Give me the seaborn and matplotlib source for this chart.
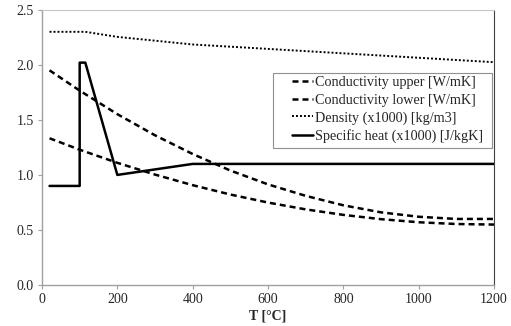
import matplotlib
matplotlib.use("Agg")
import matplotlib.pyplot as plt
from matplotlib.patches import Rectangle
import seaborn as sns

T_cond = [20, 100, 200, 300, 400, 500, 600, 700, 800, 900, 1000, 1100, 1200]
cond_upper = [1.95, 1.766, 1.552, 1.36, 1.19, 1.04, 0.914, 0.81, 0.724, 0.66, 0.62, 0.60, 0.60]
cond_lower = [1.333, 1.229, 1.11, 1.003, 0.907, 0.822, 0.749, 0.687, 0.637, 0.598, 0.57, 0.554, 0.549]
T_dens = [20, 115, 200, 400, 1200]
density = [2.30, 2.30, 2.254, 2.185, 2.024]
T_cp = [20, 100, 100, 115, 200, 400, 1200]
spec_heat = [0.90, 0.90, 2.02, 2.02, 1.00, 1.10, 1.10]

labels = ["Conductivity upper [W/mK]", "Conductivity lower [W/mK]",
          "Density (x1000) [kg/m3]", "Specific heat (x1000) [J/kgK]"]

sns.set_style("white")
plt.rcParams['font.family'] = ['Liberation Serif', 'DejaVu Serif']

W, H = 511, 326
fig = plt.figure(figsize=(W / 100, H / 100), dpi=100)
ax = fig.add_axes([42 / W, 1 - 285 / H, 452 / W, 275.2 / H])

kw = dict(ax=ax, color='black', estimator=None, sort=False)
sns.lineplot(x=T_cond, y=cond_upper, lw=1.8, label=labels[0], **kw)
sns.lineplot(x=T_cond, y=cond_lower, lw=1.8, label=labels[1], **kw)
sns.lineplot(x=T_dens, y=density, lw=1.4, label=labels[2], **kw)
sns.lineplot(x=T_cp, y=spec_heat, lw=1.8, label=labels[3], **kw)
lines = ax.get_lines()
lines[0].set_dashes((2.4, 1.6))
lines[1].set_dashes((2.4, 1.6))
lines[2].set_dashes((1, 1.05))

ax.set_xlim(0, 1200)
ax.set_ylim(0, 2.5)
ax.set_xticks([0, 200, 400, 600, 800, 1000, 1200])
yt = [0.0, 0.5, 1.0, 1.5, 2.0, 2.5]
ax.set_yticks(yt)
ax.set_yticklabels([f"{v:.1f}" for v in yt])
ax.tick_params(axis='both', labelsize=10, length=3, width=0.8, color='#a0a0a0', pad=3)
ax.tick_params(axis='both', which='both', bottom=True, left=True)
for s in ['left', 'bottom']:
    ax.spines[s].set_color('#a0a0a0')
    ax.spines[s].set_linewidth(1.0)
ax.spines['top'].set_color('#c8c8c8')
ax.spines['right'].set_color('#404040')
ax.set_xlabel("T [°C]", fontsize=10, fontweight='bold', labelpad=2)
ax.set_ylabel("")

handles, labs = ax.get_legend_handles_labels()
ax.get_legend().remove()

fig.patches.append(Rectangle((273 / W, 1 - 148 / H), 219 / W, 75 / H,
                             transform=fig.transFigure, facecolor='white',
                             edgecolor='#909090', linewidth=0.8, zorder=4))
fig.legend(handles, labs, loc='upper left', bbox_to_anchor=(292 / W, 1 - 76 / H),
           fontsize=10.2, frameon=False, handlelength=1.5, handletextpad=0.15,
           borderpad=0, labelspacing=0.32, borderaxespad=0)

fig.savefig("out.png", dpi=100)
